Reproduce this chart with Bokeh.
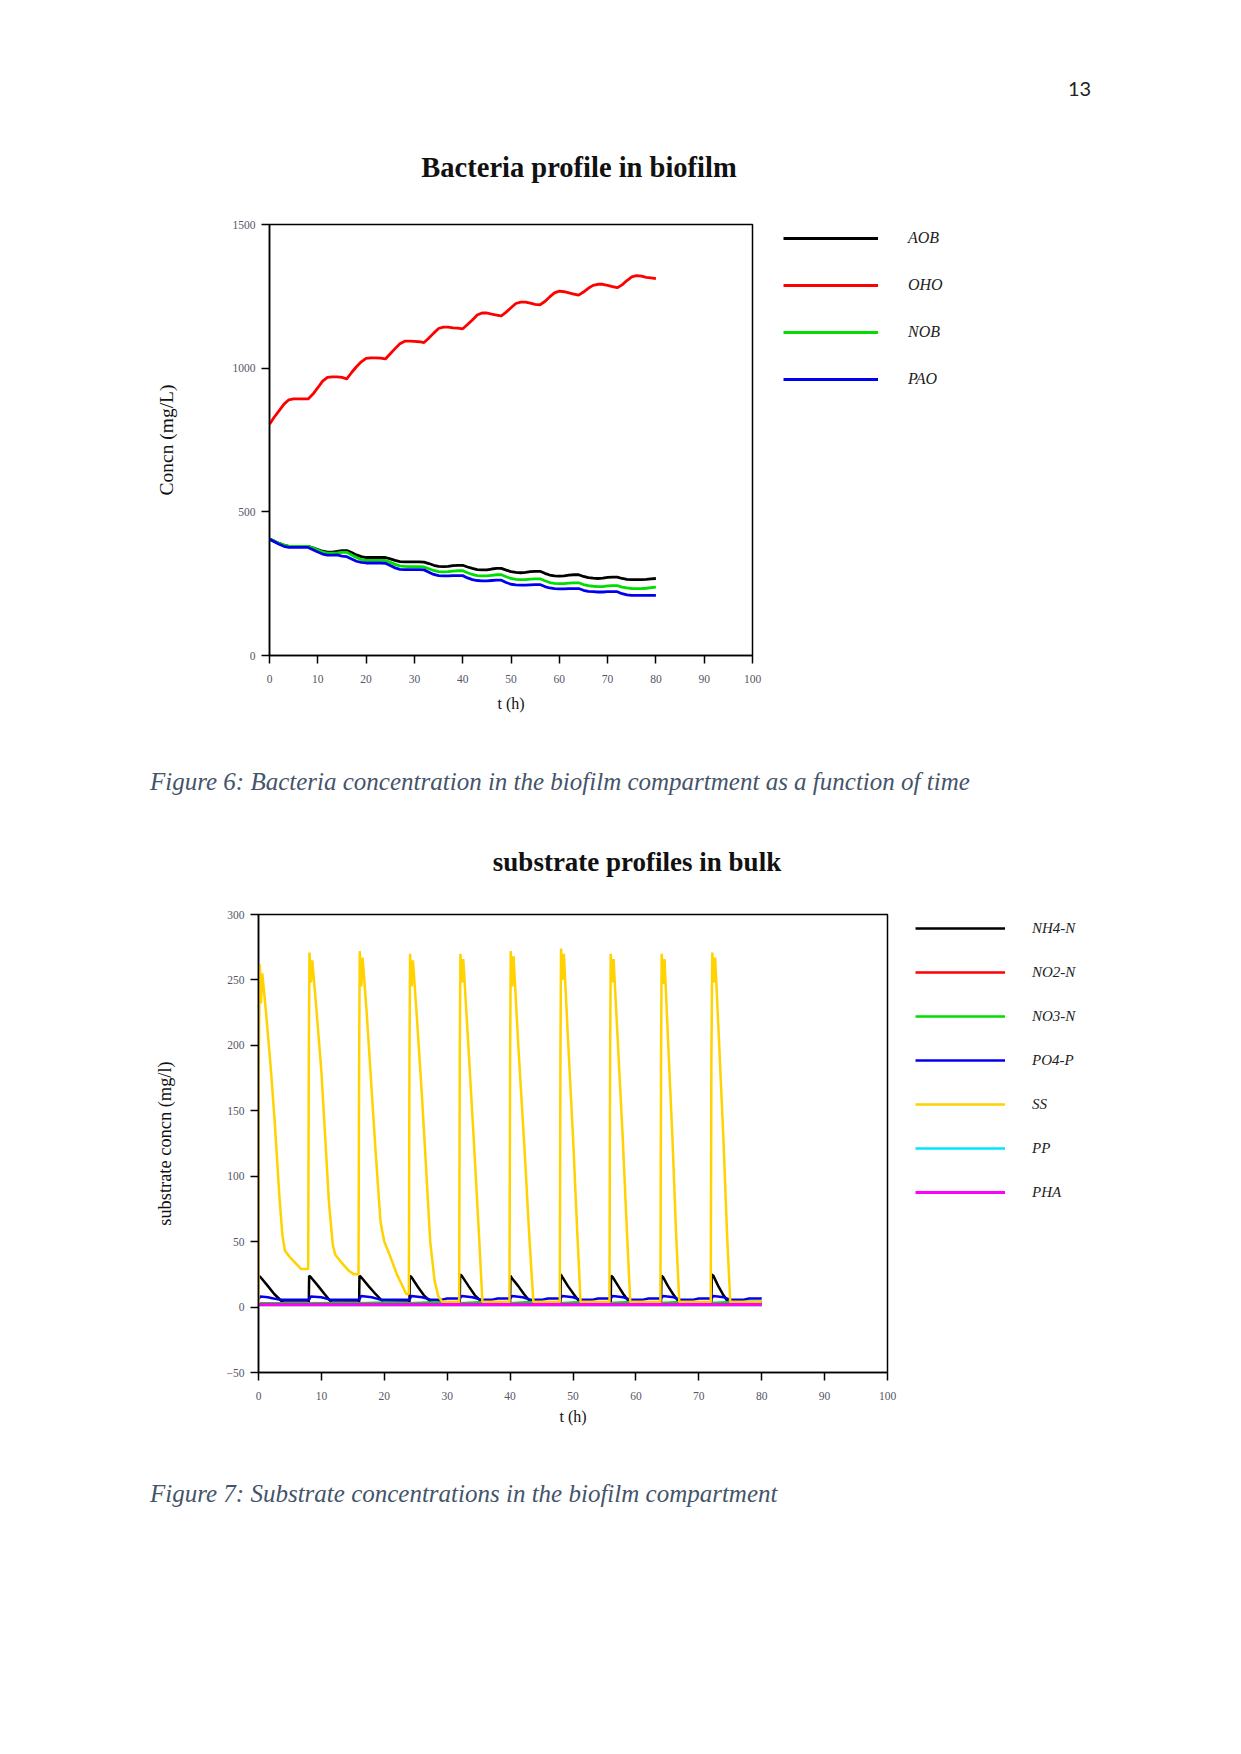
from bokeh.plotting import figure
from bokeh.models import Legend, LegendItem, FixedTicker, Div, Range1d
from bokeh.layouts import column
from bokeh.embed import file_html
from bokeh.resources import INLINE

# ---------------- Figure 6 data: bacteria in biofilm ----------------
bact_t = list(range(0, 81))
aob = [405, 398, 390, 384, 380, 380, 380, 380, 380,
       375, 369, 363, 360, 360, 362, 365, 365,
       358, 350, 344, 341, 341, 341, 341, 341,
       336, 331, 327, 326, 326, 326, 326, 325,
       320, 314, 310, 309, 310, 313, 314, 314,
       308, 303, 299, 298, 298, 301, 303, 303,
       297, 292, 289, 288, 289, 292, 293, 293,
       286, 280, 277, 276, 277, 280, 281, 281,
       275, 271, 269, 268, 269, 272, 273, 273,
       268, 265, 264, 264, 264, 265, 267, 268]
oho = [805, 830, 852, 875, 890, 893, 893, 893, 893,
       910, 932, 955, 968, 970, 970, 968, 963,
       985, 1005, 1022, 1034, 1036, 1036, 1035, 1032,
       1050, 1068, 1085, 1094, 1094, 1093, 1092, 1089,
       1105, 1122, 1138, 1143, 1143, 1140, 1139, 1137,
       1152, 1168, 1185, 1192, 1192, 1188, 1185, 1182,
       1195, 1210, 1225, 1230, 1230, 1226, 1222, 1220,
       1232, 1248, 1262, 1268, 1266, 1262, 1258, 1254,
       1265, 1278, 1288, 1292, 1292, 1288, 1284, 1280,
       1290, 1305, 1318, 1322, 1320, 1316, 1314, 1312]
nob = [405, 398, 390, 384, 380, 380, 380, 380, 380,
       374, 367, 360, 356, 356, 357, 359, 359,
       350, 341, 334, 331, 331, 331, 331, 331,
       324, 317, 312, 310, 309, 309, 309, 308,
       302, 296, 292, 291, 292, 294, 295, 295,
       288, 282, 278, 277, 277, 279, 281, 281,
       274, 268, 265, 264, 264, 266, 267, 267,
       260, 254, 251, 250, 250, 252, 253, 253,
       247, 243, 241, 240, 240, 242, 243, 243,
       238, 235, 233, 233, 233, 234, 236, 238]
pao = [405, 396, 387, 380, 376, 376, 376, 376, 376,
       368, 360, 353, 349, 349, 350, 346, 344,
       336, 328, 324, 322, 322, 322, 322, 321,
       313, 305, 300, 299, 299, 299, 299, 298,
       290, 282, 278, 277, 277, 278, 278, 278,
       270, 264, 261, 260, 260, 261, 262, 262,
       254, 248, 246, 245, 245, 246, 247, 247,
       240, 235, 233, 232, 232, 233, 233, 233,
       227, 223, 222, 221, 221, 222, 222, 222,
       215, 211, 209, 209, 209, 209, 209, 209]
bact_names = ["AOB", "OHO", "NOB", "PAO"]
bact_colors = ["#000000", "#FF0000", "#00DD00", "#0000EE"]

# ---------------- Figure 7 data: substrates in bulk ----------------
ss_t = [0, 0.05, 0.2, 0.4, 0.6, 1.2, 2.0, 2.6, 3.3, 3.8, 4.2, 5.0, 6.0, 6.8, 7.9,
        8.0, 8.1, 8.35, 8.55, 9.2, 10.0, 10.6, 11.2, 11.8, 12.2, 13.2, 14.3, 15.2, 15.9,
        16.0, 16.1, 16.35, 16.55, 17.2, 18.0, 18.6, 19.4, 20.0, 21.0, 22.0, 23.0, 23.5, 23.9,
        24.0, 24.1, 24.35, 24.55, 25.2, 26.0, 26.6, 27.3, 28.0, 28.6, 29.2, 31.9,
        32.0, 32.1, 32.35, 32.55, 33.3, 34.2, 35.0, 35.6, 39.9,
        40.0, 40.1, 40.35, 40.55, 41.3, 42.3, 43.1, 43.7, 47.9,
        48.0, 48.1, 48.35, 48.55, 49.2, 50.0, 50.7, 51.2, 55.8,
        55.9, 56.0, 56.25, 56.45, 57.1, 57.9, 58.6, 59.1, 63.9,
        64.0, 64.1, 64.35, 64.55, 65.1, 65.8, 66.4, 66.9, 71.9,
        72.0, 72.15, 72.4, 72.6, 73.2, 73.9, 74.5, 75.0, 80.0]
ss_v = [3, 190, 262, 232, 255, 225, 180, 140, 86, 55, 43, 38, 33, 29, 29,
        190, 271, 248, 265, 228, 180, 130, 80, 48, 40, 34, 28, 25, 25,
        190, 272, 245, 267, 225, 165, 120, 65, 50, 38, 25, 15, 10, 10,
        190, 270, 245, 265, 220, 160, 110, 50, 20, 8, 4, 4,
        190, 270, 248, 266, 205, 130, 60, 4, 4,
        190, 272, 245, 268, 200, 120, 50, 4, 4,
        190, 274, 250, 270, 205, 130, 55, 4, 4,
        190, 270, 248, 266, 205, 130, 55, 4, 4,
        190, 270, 247, 266, 205, 130, 55, 4, 4,
        190, 271, 248, 267, 205, 130, 55, 4, 4]

nh4_t = [0, 0.3, 1.5, 2.5, 3.9, 8.0, 8.05, 8.3, 9.5, 10.5, 11.6, 16.0, 16.05, 16.3, 17.5, 18.6, 19.9,
         24.0, 24.05, 24.3, 25.4, 26.3, 27.5, 32.0, 32.05, 32.3, 33.4, 34.4, 35.6,
         40.0, 40.05, 40.3, 41.3, 42.2, 43.3, 48.0, 48.05, 48.3, 49.2, 50.1, 51.1,
         56.0, 56.05, 56.3, 57.2, 58.0, 59.0, 64.0, 64.05, 64.3, 65.1, 65.9, 66.9,
         72.0, 72.05, 72.3, 73.1, 73.8, 74.7, 80.0]
nh4_v = [24, 23, 16, 10, 3.5, 3.5, 24, 23, 16, 10, 3.5, 3.5, 24, 23, 16, 10, 3.5,
         3.5, 24, 23, 15, 9, 3.5, 3.5, 25, 24, 16, 9, 3.5,
         3.5, 24, 22, 16, 10, 3.5, 3.5, 25, 23, 16, 10, 3.5,
         3.5, 24, 23, 16, 10, 3.5, 3.5, 24, 23, 16, 10, 3.5,
         3.5, 25, 24, 16, 10, 3.5, 3.5]

po4_t = [0, 0.3, 1.5, 2.0, 3.5, 8.0, 8.3, 10.0, 11.5, 16.0, 16.3, 18.0, 19.5, 24.0, 24.3, 26.0, 27.5,
         29.0, 30.0, 32.0, 32.3, 34.0, 35.5, 37.0, 38.0, 40.0, 40.3, 42.0, 43.3, 45.0, 46.0,
         48.0, 48.3, 50.0, 51.2, 53.0, 54.0, 56.0, 56.3, 58.0, 59.2, 61.0, 62.0,
         64.0, 64.3, 66.0, 67.0, 69.0, 70.0, 72.0, 72.3, 74.0, 75.0, 77.0, 78.0, 80.0]
po4_v = [6, 8, 7.5, 7, 5.5, 5.5, 8, 7.5, 5.5, 5.5, 8.5, 7.5, 5.5, 5.5, 8.5, 7.5, 5.5,
         5.5, 6.5, 6.5, 8.5, 7.5, 5.5, 5.5, 6.5, 6.5, 8.5, 7.5, 5.5, 5.5, 6.5,
         6.5, 8.5, 7.5, 5.5, 5.5, 6.5, 6.5, 8.5, 7.5, 5.5, 5.5, 6.5,
         6.5, 8.5, 7.5, 5.5, 5.5, 6.5, 6.5, 8.5, 7.5, 5.5, 5.5, 6.5, 6.5]

low_t = [0, 4, 8, 12, 16, 20, 24, 28, 32, 36, 40, 44, 48, 52, 56, 60, 64, 68, 72, 76, 80]
no3_v = [3, 3, 3, 3.2, 3, 3.4, 3, 3.6, 3, 3.8, 3, 4, 3, 4, 3.2, 4, 3.2, 4, 3.2, 4, 4]
no2_v = [1.5, 1.5, 1.5, 1.5, 1.5, 1.5, 1.5, 1.5, 1.5, 1.5, 1.5, 1.5, 1.5, 1.5, 1.5, 1.5, 1.5, 1.5, 1.5, 1.5, 1.5]
pp_v = [1.6, 1.6, 1.6, 1.6, 1.6, 1.6, 1.6, 1.6, 1.6, 1.6, 1.6, 1.6, 1.6, 1.6, 1.6, 1.6, 1.6, 1.6, 1.6, 1.6, 1.6]
pha_v = [2, 2, 2, 2, 2, 2, 2, 2, 2, 2, 2, 2, 2, 2, 2, 2, 2, 2, 2, 2, 2]

sub_names = ["NH4-N", "NO2-N", "NO3-N", "PO4-P", "SS", "PP", "PHA"]
sub_colors = ["#000000", "#FF0000", "#00DD00", "#0000EE", "#FFD200", "#00E5FF", "#FF00FF"]

x_ticks = [0, 10, 20, 30, 40, 50, 60, 70, 80, 90, 100]
y1_ticks = [0, 500, 1000, 1500]
y2_ticks = [-50, 0, 50, 100, 150, 200, 250, 300]

SERIF = "Liberation Serif"
W = 1225


def style(p, yticks, ystandoff_label, xlab_standoff):
    p.frame_align = False
    p.xaxis.ticker = FixedTicker(ticks=x_ticks)
    p.yaxis.ticker = FixedTicker(ticks=yticks)
    p.xgrid.visible = False
    p.ygrid.visible = False
    p.outline_line_color = "black"
    p.outline_line_width = 1.5
    p.outline_line_alpha = 1
    for ax in p.axis:
        ax.major_tick_out = 8
        ax.major_tick_in = 0
        ax.minor_tick_out = 0
        ax.minor_tick_in = 0
        ax.axis_line_width = 1.5
        ax.major_tick_line_width = 1.5
        ax.major_label_text_font = SERIF
        ax.major_label_text_font_size = "11.5px"
        ax.major_label_text_color = "#555566"
        ax.axis_label_text_font = SERIF
        ax.axis_label_text_font_style = "normal"
        ax.axis_label_text_color = "#111111"
    p.yaxis.major_label_standoff = 6
    p.xaxis.major_label_standoff = 11
    p.yaxis.axis_label_standoff = ystandoff_label
    p.xaxis.axis_label_standoff = xlab_standoff
    p.xaxis.axis_label_text_font_size = "16px"


# ---------------- Figure 6 ----------------
p1 = figure(frame_width=483, frame_height=431, output_backend="svg", toolbar_location=None,
            x_range=Range1d(0, 100), y_range=Range1d(0, 1500),
            min_border_left=269, min_border_right=10, min_border_top=16, min_border_bottom=85,
            x_axis_label="t (h)", y_axis_label="Concn (mg/L)")
style(p1, y1_ticks, 53, 9)
p1.yaxis.axis_label_text_font_size = "19.5px"
items1 = []
for name, col, ys in zip(bact_names, bact_colors, [aob, oho, nob, pao]):
    r = p1.line(bact_t, ys, line_color=col, line_width=2.8)
    items1.append(LegendItem(label=name, renderers=[r]))
leg1 = Legend(items=items1, location=(31, 266), glyph_width=95, glyph_height=20, spacing=27,
              padding=0, margin=0, label_standoff=30, border_line_alpha=0, background_fill_alpha=0,
              label_text_font=SERIF, label_text_font_style="italic", label_text_font_size="16px",
              label_text_color="#222222", label_text_baseline="bottom")
p1.add_layout(leg1, "right")

# ---------------- Figure 7 ----------------
p2 = figure(frame_width=629, frame_height=458, output_backend="svg", toolbar_location=None,
            x_range=Range1d(0, 100), y_range=Range1d(-50, 300),
            min_border_left=258, min_border_right=10, min_border_top=14, min_border_bottom=68,
            x_axis_label="t (h)", y_axis_label="substrate concn (mg/l)")
style(p2, y2_ticks, 49, 5)
p2.yaxis.axis_label_text_font_size = "18.4px"
series2 = [(nh4_t, nh4_v), (low_t, no2_v), (low_t, no3_v), (po4_t, po4_v), (ss_t, ss_v), (low_t, pp_v), (low_t, pha_v)]
items2 = []
for name, col, (xs, ys) in zip(sub_names, sub_colors, series2):
    lw = 3 if name == "PHA" else 2.5
    r = p2.line(xs, ys, line_color=col, line_width=lw)
    items2.append(LegendItem(label=name, renderers=[r]))
leg2 = Legend(items=items2, location=(28, 170), glyph_width=90, glyph_height=20, spacing=24,
              padding=0, margin=0, label_standoff=27, border_line_alpha=0, background_fill_alpha=0,
              label_text_font=SERIF, label_text_font_style="italic", label_text_font_size="15px",
              label_text_color="#222222", label_text_baseline="bottom")
p2.add_layout(leg2, "right")

# ---------------- Text blocks ----------------
CAP = ("font-family:'Liberation Serif';font-style:italic;font-size:25px;line-height:25px;"
       "color:#44546A;white-space:nowrap;position:absolute;")
TITLE = ("font-family:'Liberation Serif';font-weight:bold;line-height:28px;"
         "color:#111111;white-space:nowrap;position:absolute;transform:translateX(-50%);")

top_div = Div(width=W, height=208, margin=(0, 0, 0, 0), text=(
    '<div style="position:relative;width:1225px;height:208px;">'
    '<div style="position:absolute;left:1068px;top:78px;font-family:Lato;font-size:20px;line-height:20px;color:#222;">13</div>'
    f'<div style="{TITLE}font-size:28.5px;left:579px;top:154px;">Bacteria profile in biofilm</div>'
    '</div>'))

mid_div = Div(width=W, height=160, margin=(0, 0, 0, 0), text=(
    '<div style="position:relative;width:1225px;height:160px;">'
    f'<div style="{CAP}left:150px;top:29px;">Figure 6: Bacteria concentration in the biofilm compartment as a function of time</div>'
    f'<div style="{TITLE}font-size:27px;left:637px;top:108px;">substrate profiles in bulk</div>'
    '</div>'))

bot_div = Div(width=W, height=80, margin=(0, 0, 0, 0), text=(
    '<div style="position:relative;width:1225px;height:80px;">'
    f'<div style="{CAP}left:150px;top:41px;">Figure 7: Substrate concentrations in the biofilm compartment</div>'
    '</div>'))

page = column(top_div, p1, mid_div, p2, bot_div, spacing=0)
open("out.html", "w").write(file_html(page, INLINE))
